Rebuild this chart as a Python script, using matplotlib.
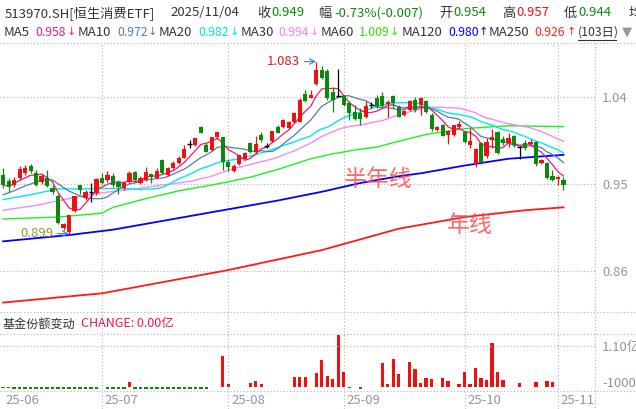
import numpy as np
import pandas as pd
import matplotlib
matplotlib.use('Agg')
import matplotlib.pyplot as plt
from matplotlib.lines import Line2D

plt.rcParams['font.family'] = ['Noto Sans CJK SC', 'DejaVu Sans']

# 103 trading days, 2025-06-05 .. 2025-11-04
month_labels = ['25-06', '25-07', '25-08', '25-09', '25-10', '25-11']
month_start = [0, 18, 41, 62, 84, 101]

opens = [0.959, 0.953, 0.949, 0.956, 0.961, 0.969, 0.961, 0.952, 0.956, 0.946,
         0.938, 0.905, 0.901, 0.922, 0.949, 0.936, 0.942, 0.941, 0.956, 0.954,
         0.958, 0.952, 0.946, 0.952, 0.962, 0.951, 0.954, 0.960, 0.956, 0.975,
         0.959, 0.966, 0.972, 0.977, 0.991, 0.990, 1.009, 0.990, 0.985, 0.998,
         0.998, 0.973, 0.963, 0.971, 0.976, 0.992, 0.983, 1.000, 0.989, 0.994,
         1.009, 1.009, 1.008, 1.014, 1.014, 1.043, 1.039, 1.053, 1.067, 1.066,
         1.045, 1.041, 1.041, 1.033, 1.024, 1.023, 1.019, 1.031, 1.038, 1.041,
         1.032, 1.041, 1.029, 1.021, 1.026, 1.036, 1.031, 1.035, 1.021, 1.006,
         1.011, 1.000, 1.000, 1.009, 1.004, 0.990, 0.971, 0.992, 0.979, 0.995,
         1.004, 0.996, 0.992, 0.999, 0.988, 0.992, 0.991, 0.993, 0.972, 0.972,
         0.958, 0.955, 0.954]
highs = [0.966, 0.956, 0.957, 0.969, 0.970, 0.971, 0.964, 0.960, 0.964, 0.949,
         0.940, 0.910, 0.918, 0.938, 0.949, 0.944, 0.951, 0.956, 0.961, 0.963,
         0.961, 0.954, 0.953, 0.963, 0.963, 0.958, 0.968, 0.961, 0.966, 0.976,
         0.968, 0.974, 0.979, 0.990, 0.995, 0.997, 1.010, 0.992, 0.998, 1.005,
         0.998, 0.975, 0.971, 0.980, 0.983, 0.993, 0.999, 1.004, 0.992, 1.005,
         1.011, 1.017, 1.015, 1.024, 1.038, 1.047, 1.047, 1.076, 1.071, 1.068,
         1.050, 1.068, 1.042, 1.035, 1.031, 1.028, 1.035, 1.034, 1.042, 1.045,
         1.036, 1.042, 1.031, 1.026, 1.036, 1.040, 1.040, 1.036, 1.023, 1.010,
         1.012, 1.006, 1.011, 1.015, 1.005, 1.008, 0.987, 0.993, 0.997, 1.007,
         1.005, 0.999, 1.002, 1.000, 0.989, 0.995, 0.996, 0.994, 0.976, 0.973,
         0.964, 0.958, 0.957]
lows = [0.946, 0.942, 0.947, 0.954, 0.959, 0.961, 0.948, 0.950, 0.947, 0.940,
        0.909, 0.903, 0.899, 0.921, 0.940, 0.934, 0.932, 0.939, 0.950, 0.952,
        0.947, 0.940, 0.944, 0.951, 0.952, 0.950, 0.953, 0.951, 0.955, 0.960,
        0.958, 0.965, 0.971, 0.977, 0.987, 0.989, 1.002, 0.983, 0.984, 0.996,
        0.964, 0.963, 0.962, 0.970, 0.976, 0.982, 0.982, 0.993, 0.987, 0.993,
        1.002, 1.008, 1.007, 1.013, 1.014, 1.034, 1.038, 1.052, 1.058, 1.036,
        1.024, 1.040, 1.030, 1.016, 1.016, 1.011, 1.018, 1.028, 1.028, 1.028,
        1.019, 1.028, 1.019, 1.020, 1.025, 1.024, 1.021, 1.023, 1.005, 1.005,
        0.999, 0.991, 0.999, 1.008, 0.992, 0.987, 0.968, 0.971, 0.977, 0.987,
        0.981, 0.990, 0.988, 0.988, 0.976, 0.985, 0.990, 0.969, 0.971, 0.955,
        0.953, 0.949, 0.944]
closes = [0.949, 0.947, 0.954, 0.965, 0.966, 0.963, 0.949, 0.958, 0.948, 0.942,
          0.910, 0.909, 0.918, 0.938, 0.944, 0.942, 0.942, 0.955, 0.951, 0.959,
          0.949, 0.947, 0.951, 0.961, 0.954, 0.956, 0.962, 0.957, 0.963, 0.961,
          0.966, 0.972, 0.977, 0.986, 0.991, 0.997, 1.003, 0.983, 0.998, 1.004,
          0.973, 0.968, 0.969, 0.980, 0.982, 0.983, 0.991, 0.995, 0.989, 1.005,
          1.003, 1.016, 1.014, 1.023, 1.036, 1.035, 1.042, 1.067, 1.059, 1.038,
          1.036, 1.041, 1.031, 1.023, 1.017, 1.017, 1.030, 1.031, 1.030, 1.030,
          1.034, 1.033, 1.019, 1.025, 1.035, 1.026, 1.038, 1.024, 1.007, 1.009,
          0.999, 1.005, 1.011, 1.012, 0.993, 0.994, 0.986, 0.973, 0.993, 0.998,
          0.982, 0.992, 0.997, 0.990, 0.988, 0.987, 0.993, 0.971, 0.975, 0.956,
          0.954, 0.957, 0.949]

# start of the MA lines (history before the window is not visible)
ma10_head_idx = [0, 2, 4, 6, 8]
ma10_head_val = [0.939, 0.943, 0.948, 0.952, 0.955]
ma20_head_idx = [0, 5, 10, 15]
ma20_head_val = [0.934, 0.939, 0.945, 0.945]
ma30_head_idx = [0, 6, 12, 18, 24]
ma30_head_val = [0.923, 0.928, 0.935, 0.941, 0.945]

# long averages
ma60_idx = [0, 10, 18, 20, 26, 32, 39, 45, 50, 56, 60, 64, 68, 72, 77, 84, 92, 102]
ma60_val = [0.914, 0.916, 0.920, 0.926, 0.935, 0.943, 0.950, 0.957, 0.965, 0.976,
            0.981, 0.985, 0.988, 0.994, 1.001, 1.007, 1.010, 1.009]
ma120_idx = [0, 12, 20, 30, 40, 50, 58, 65, 72, 76, 84, 92, 102]
ma120_val = [0.891, 0.8975, 0.903, 0.913, 0.923, 0.933, 0.942, 0.951, 0.958, 0.961,
             0.969, 0.976, 0.980]
ma250_idx = [0, 18, 41, 58, 65, 72, 84, 95, 102]
ma250_val = [0.828, 0.8375, 0.8615, 0.882, 0.893, 0.904, 0.916, 0.923, 0.926]

# fund share change, 亿
flow = [-0.04, -0.04, -0.07, -0.07, -0.07, -0.07, -0.07, -0.07, -0.07, -0.07,
        -0.07, -0.07, -0.07, -0.07, -0.07, -0.07, -0.07, -0.07, 0.00, -0.07,
        -0.07, -0.07, -0.07, 0.14, -0.07, -0.07, -0.07, -0.07, -0.07, -0.07,
        -0.07, -0.07, -0.07, -0.07, -0.07, -0.07, -0.07, -0.07, 0.00, 0.00,
        0.84, 0.07, 0.00, 0.00, 0.00, 0.11, 0.16, 0.07, 0.00, 0.00,
        0.00, 0.00, 0.00, 0.25, 0.26, 0.25, 0.00, 0.38, 0.73, 0.29,
        0.21, 1.41, 0.41, -0.03, 0.00, -0.07, 0.00, 0.00, 0.00, 0.64,
        0.07, 0.75, 0.35, 0.00, 0.68, 0.48, 0.09, 0.23, 0.21, 0.00,
        0.23, 0.15, 0.00, 0.07, 0.41, 0.07, 0.52, 0.23, 0.18, 1.18,
        0.41, 0.18, 0.00, 0.00, 0.11, 0.00, 0.00, 0.14, 0.00, 0.16,
        0.14, 0.00, 0.00]

RED = '#f01010'
GREEN = '#0a8a0a'
GRID = '#b0b0b0'
AXT = '#8e95a2'
DOT = (0, (1, 2))

W, H = 636, 409
def fx(x):
    return x / W
def fy(y):
    return 1 - y / H
def rect(x0, y0, x1, y1):
    return [fx(x0), fy(y1), fx(x1) - fx(x0), fy(y0) - fy(y1)]

xlim = (-0.564, 107.74)
idx = np.arange(len(closes))
o = np.array(opens); h = np.array(highs); l = np.array(lows); c = np.array(closes)

fig = plt.figure(figsize=(6.36, 4.09), dpi=100, facecolor='white')

# vertical month grid through both panels and the date row
ax_bg = fig.add_axes(rect(0, 43, 595, 409))
ax_bg.set_xlim(xlim)
ax_bg.axis('off')
for m in month_start[1:]:
    ax_bg.axvline(m, color=GRID, lw=0.8, ls=DOT)

# price panel
ax = fig.add_axes(rect(0, 43, 595, 312))
ax.set_facecolor('none')
ax.set_xlim(xlim)
ax.set_ylim(0.8183, 1.0951)
for s in ax.spines.values():
    s.set_visible(False)
ax.set_xticks([])
ax.yaxis.tick_right()
ax.set_yticks([0.86, 0.95, 1.04])
ax.set_yticklabels(['0.86', '0.95', '1.04'])
ax.tick_params(axis='y', length=0, pad=5, labelsize=9.5, labelcolor=AXT)
for yv in [0.86, 0.95, 1.04]:
    ax.axhline(yv, color=GRID, lw=0.8, ls=DOT)

cs = pd.Series(c)
ma5 = cs.rolling(5, min_periods=1).mean().values
ma10 = cs.rolling(10).mean().values
ma20 = cs.rolling(20).mean().values
ma30 = cs.rolling(30).mean().values

ax.plot(ma250_idx, ma250_val, color='#ff1a1a', lw=1.3)
ax.plot(ma120_idx, ma120_val, color='#0000ff', lw=1.3)
ax.plot(ma60_idx, ma60_val, color='#22ee22', lw=1.0)
ax.plot(ma30_head_idx + list(idx[29:]), ma30_head_val + list(ma30[29:]), color='#f28af2', lw=1.0)
ax.plot(ma20_head_idx + list(idx[19:]), ma20_head_val + list(ma20[19:]), color='#00e8f0', lw=1.0)
ax.plot(ma10_head_idx + list(idx[9:]), ma10_head_val + list(ma10[9:]), color='#4f7fae', lw=0.9)
ax.plot(idx, ma5, color='#f0187a', lw=0.9)

up = c > o
dn = c < o
flat = c == o
col = np.where(up, RED, np.where(dn, GREEN, 'black'))
ax.vlines(idx, l, h, colors=col, lw=0.9, zorder=3)
body = ~flat
ax.bar(idx[body], np.abs(c - o)[body], 0.75, bottom=np.minimum(o, c)[body],
       color=col[body], lw=0, zorder=4)
ax.hlines(c[flat], idx[flat] - 0.45, idx[flat] + 0.45, colors='black', lw=1.0, zorder=4)

imax = int(np.argmax(h))
ax.annotate('1.083', xy=(imax, h[imax]), xytext=(imax - 2.9, h[imax]),
            color='#e02020', fontsize=9.5, ha='right', va='center',
            arrowprops=dict(arrowstyle='->', color='#4a90b8', lw=0.9, shrinkA=1, shrinkB=0))
imin = int(np.argmin(l))
ax.annotate('0.899', xy=(imin, l[imin]), xytext=(imin - 2.9, l[imin]),
            color='#8f9a2c', fontsize=9.5, ha='right', va='center',
            arrowprops=dict(arrowstyle='->', color='#4a90b8', lw=0.9, shrinkA=1, shrinkB=0))

ax.text(68.2, 0.955, '半年线', color='#ff4d4d', alpha=0.85, fontsize=16.5, ha='center', va='center')
ax.text(85.0, 0.9078, '年线', color='#ff4d4d', alpha=0.85, fontsize=16.5, ha='center', va='center')

# fund share change panel
axf = fig.add_axes(rect(0, 334, 595, 391))
axf.set_facecolor('none')
axf.set_xlim(xlim)
axf.set_ylim(-0.117, 1.432)
for s in axf.spines.values():
    s.set_visible(False)
axf.set_xticks([])
axf.yaxis.tick_right()
axf.set_yticks([1.10, -0.10])
axf.set_yticklabels(['1.10亿', '-1000万'])
axf.tick_params(axis='y', length=0, pad=5, labelsize=9.5, labelcolor=AXT)
axf.get_yticklabels()[1].set_va('bottom')
axf.axhline(1.10, color=GRID, lw=0.8, ls=DOT)
fl = np.array(flow)
axf.bar(idx, fl, 0.6, color=np.where(fl >= 0, RED, GREEN), lw=0)

for m, lab in zip(month_start, month_labels):
    axf.text(m + 0.5, -0.16, lab, transform=axf.get_xaxis_transform(),
             color=AXT, fontsize=9.5, ha='left', va='center')

# frame lines
for yy in (43, 312, 334, 391):
    fig.add_artist(Line2D([0, 1], [fy(yy)] * 2, transform=fig.transFigure,
                          color=GRID, lw=0.8, ls=DOT))
fig.add_artist(Line2D([fx(595)] * 2, [fy(43), 0], transform=fig.transFigure,
                      color=GRID, lw=0.8, ls=DOT))

# header rows
def put(x, y, s, color='#333333', size=9.5, **kw):
    fig.text(fx(x), fy(y), s, color=color, fontsize=size, ha='left', va='center', **kw)

def arrow(x, y, s, color):
    fig.text(fx(x), fy(y), s, color=color, fontsize=8, ha='center', va='center',
             family='DejaVu Sans')

put(5, 13, '513970.SH[恒生消费ETF]')
put(170, 13, '2025/11/04')
put(257, 13, '收')
put(271, 13, '0.949', GREEN)
put(318, 13, '幅')
put(334, 13, '-0.73%(-0.007)', GREEN)
put(439, 13, '开')
put(453, 13, '0.954', GREEN)
put(502, 13, '高')
put(516, 13, '0.957', RED)
put(564, 13, '低')
put(578, 13, '0.944', GREEN)
put(629, 13, '均')

ma_items = [
    (4, 'MA5', 35, '0.958', 71, '↓', '#f0187a'),
    (78, 'MA10', 117, '0.972', 152, '↓', '#4f7fae'),
    (159, 'MA20', 198, '0.982', 234, '↓', '#00dde8'),
    (241, 'MA30', 278, '0.994', 314, '↓', '#f080f0'),
    (321, 'MA60', 359, '1.009', 394, '↓', '#33e000'),
    (402, 'MA120', 448, '0.980', 483, '↑', '#0000ff'),
    (489, 'MA250', 534, '0.926', 571, '↑', '#ff2020'),
]
for xn, name, xv, val, xa, arr, colr in ma_items:
    put(xn, 32, name)
    put(xv, 32, val, colr, size=8.8)
    arrow(xa, 32, arr, colr)
put(578, 32, '(103日)', size=8.8)
fig.add_artist(Line2D([fx(578), fx(616)], [fy(40)] * 2, transform=fig.transFigure,
                      color='#333333', lw=0.8))
fig.text(fx(627), fy(32), '▼', color='#999999', fontsize=9.5, ha='center', va='center',
         family='DejaVu Sans')

put(3, 324, '基金份额变动', size=8.7)
put(81, 324, 'CHANGE: 0.00亿', '#e8184f', size=9)

fig.savefig('out.png', dpi=100, facecolor='white')
